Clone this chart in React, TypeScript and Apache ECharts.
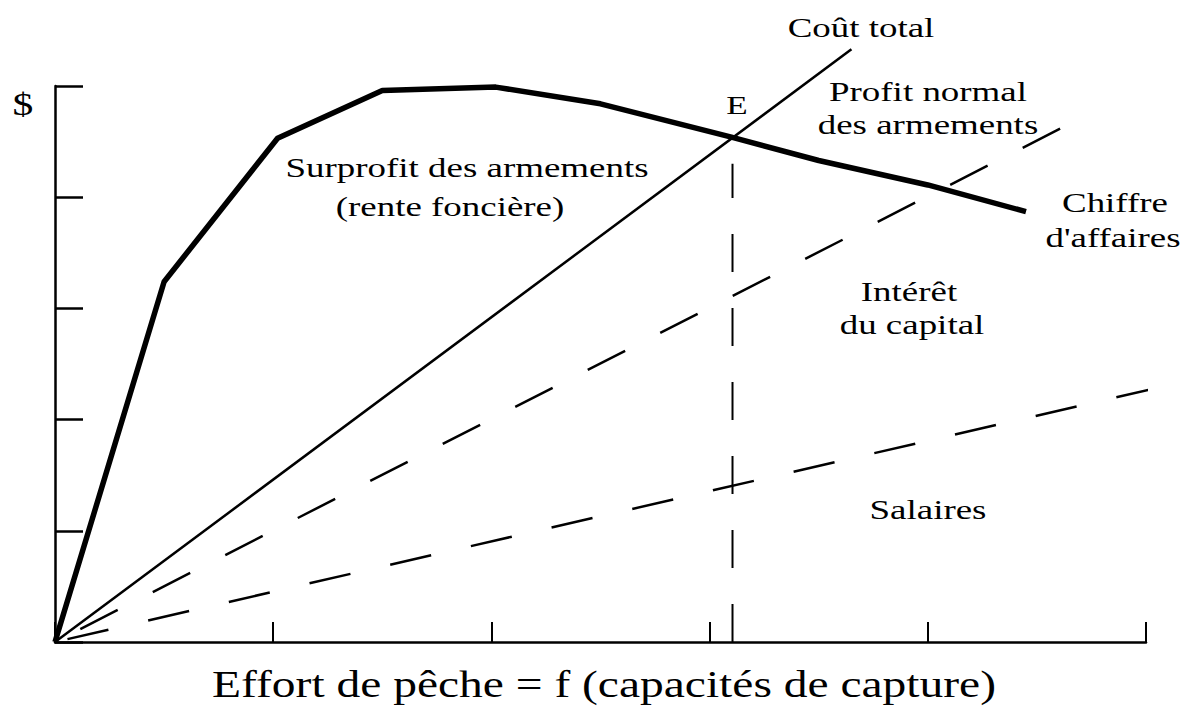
import React, { useEffect, useRef } from "react";
import * as echarts from "echarts";

// Effort axis (x) and money axis (y), arbitrary units 0..5
const xTicks = [0, 1, 2, 3, 4, 5];
const yTicks = [0, 1, 2, 3, 4, 5];

// Chiffre d'affaires (thick curve)
const revenueEffort = [0, 0.5, 1.02, 1.5, 2.02, 2.5, 3.1, 3.5, 4.0, 4.45];
const revenueValues = [0, 3.24, 4.53, 4.96, 4.99, 4.84, 4.54, 4.33, 4.11, 3.87];

// Coût total (solid straight line)
const costEffort = [0, 3.65];
const costValues = [0, 5.33];

// Intérêt du capital + salaires (upper dashed line)
const capitalEffort = [0, 4.62];
const capitalValues = [0, 4.63];

// Salaires (lower dashed line)
const wagesEffort = [0, 5.04];
const wagesValues = [0, 2.28];

// Equilibrium E (vertical dashed line)
const eqEffort = [3.105, 3.105];
const eqValues = [0, 4.3];

const zip = (xs: number[], ys: number[]) => xs.map((x, i) => [x, ys[i]]);

const SERIF = '"Liberation Serif", "Times New Roman", serif';

type Lbl = { text: string; x: number; y: number; size: number; sx: number };
const labels: Lbl[] = [
  { text: "$", x: 23, y: 104, size: 32, sx: 1.3 },
  { text: "Coût total", x: 861, y: 28, size: 28, sx: 1.32 },
  { text: "E", x: 737, y: 105, size: 26, sx: 1.35 },
  { text: "Profit normal", x: 928, y: 92, size: 28, sx: 1.32 },
  { text: "des armements", x: 928, y: 125, size: 28, sx: 1.32 },
  { text: "Surprofit des armements", x: 467, y: 168, size: 28, sx: 1.32 },
  { text: "(rente foncière)", x: 450, y: 207, size: 28, sx: 1.32 },
  { text: "Chiffre", x: 1115, y: 203, size: 28, sx: 1.32 },
  { text: "d'affaires", x: 1113, y: 238, size: 28, sx: 1.32 },
  { text: "Intérêt", x: 909, y: 292, size: 28, sx: 1.32 },
  { text: "du capital", x: 912, y: 325, size: 28, sx: 1.32 },
  { text: "Salaires", x: 928, y: 510, size: 28, sx: 1.32 },
  { text: "Effort de pêche = f (capacités de capture)", x: 604, y: 684, size: 38, sx: 1.25 },
];

export default function App() {
  const ref = useRef<HTMLDivElement>(null);

  useEffect(() => {
    document.body.style.margin = "0";
    if (!ref.current) return;
    const chart = echarts.init(ref.current, undefined, { renderer: "svg" });

    const lineBase = {
      type: "line" as const,
      symbol: "none",
      clip: false,
      silent: true,
    };

    chart.setOption({
      animation: false,
      backgroundColor: "#ffffff",
      grid: { left: 55, right: 46, top: 86, bottom: 64 },
      xAxis: {
        type: "value",
        min: xTicks[0],
        max: xTicks[xTicks.length - 1],
        interval: 1,
        axisLine: { show: true, onZero: false, lineStyle: { color: "#000", width: 2.5 } },
        axisTick: { show: true, inside: true, length: 20, lineStyle: { color: "#000", width: 2 } },
        axisLabel: { show: false },
        splitLine: { show: false },
      },
      yAxis: {
        type: "value",
        min: yTicks[0],
        max: yTicks[yTicks.length - 1],
        interval: 1,
        axisLine: { show: true, onZero: false, lineStyle: { color: "#000", width: 2.5 } },
        axisTick: { show: true, inside: true, length: 28, lineStyle: { color: "#000", width: 2.5 } },
        axisLabel: { show: false },
        splitLine: { show: false },
      },
      series: [
        {
          ...lineBase,
          name: "Chiffre d'affaires",
          data: zip(revenueEffort, revenueValues),
          lineStyle: { color: "#000", width: 5.5, join: "round" },
        },
        {
          ...lineBase,
          name: "Coût total",
          data: zip(costEffort, costValues),
          lineStyle: { color: "#000", width: 2.5 },
        },
        {
          ...lineBase,
          name: "Intérêt du capital",
          data: zip(capitalEffort, capitalValues),
          lineStyle: { color: "#000", width: 2.5, type: [42, 39.4], dashOffset: 52.8 },
        },
        {
          ...lineBase,
          name: "Salaires",
          data: zip(wagesEffort, wagesValues),
          lineStyle: { color: "#000", width: 2.5, type: [42, 40.8], dashOffset: 70 },
        },
        {
          ...lineBase,
          name: "E",
          data: zip(eqEffort, eqValues),
          lineStyle: { color: "#000", width: 2, type: [38, 36] },
        },
      ],
      graphic: labels.map((l) => ({
        type: "text",
        x: l.x,
        y: l.y,
        scaleX: l.sx,
        silent: true,
        style: {
          text: l.text,
          fill: "#000",
          fontSize: l.size,
          fontFamily: SERIF,
          align: "center",
          verticalAlign: "middle",
          textAlign: "center",
          textVerticalAlign: "middle",
        },
      })),
    });

    return () => chart.dispose();
  }, []);

  return <div ref={ref} style={{ width: 1192, height: 706 }} />;
}
